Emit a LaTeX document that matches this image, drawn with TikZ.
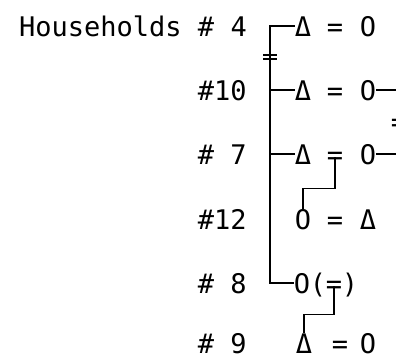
\documentclass[tikz,border=0pt]{standalone}
\usepackage{fontspec}
\setmonofont{DejaVu Sans Mono}
\newcommand{\kinfont}{\ttfamily\fontsize{27}{27}\selectfont}
\tikzset{
  lbl/.style={font=\kinfont, inner sep=0pt, anchor=base west, text height=20pt, text depth=0pt},
  sym/.style={font=\kinfont, inner sep=0pt, anchor=base, text height=20pt, text depth=0pt},
  kin/.style={draw=black, line width=1.2pt},
}
\begin{document}
\begin{tikzpicture}[x=1pt,y=-1pt]
\useasboundingbox (0,0) rectangle (396,360);
% row labels
\node[lbl] (h4)  at (19,36)  {Households \# 4};
\node[lbl] (l10) at (197.75,100) {\#10};
\node[lbl] (l7)  at (197.75,164) {\# 7};
\node[lbl] (l12) at (197.75,229) {\#12};
\node[lbl] (l8)  at (197.75,293) {\# 8};
\node[lbl] (l9)  at (197.75,353) {\# 9};
% symbols
\node[sym] (t4) at (303,36) {Δ};
\node[sym] (e4) at (335,36) {=};
\node[sym] (o4) at (368,36) {O};
\node[sym] (t10) at (303,100) {Δ};
\node[sym] (e10) at (335,100) {=};
\node[sym] (o10) at (368,100) {O};
\node[sym] (t7) at (303,164) {Δ};
\node[sym] (e7) at (335,164) {=};
\node[sym] (o7) at (368,164) {O};
\node[sym] (c12) at (303,229) {O};
\node[sym] (e12) at (335,229) {=};
\node[sym] (t12) at (368,229) {Δ};
\node[sym] (o8) at (302,293) {O};
\node[sym] (p8) at (318,293) {(};
\node[sym] (q8) at (334,293) {=};
\node[sym] (r8) at (350,293) {)};
\node[sym] (t9) at (304,353) {Δ};
\node[sym] (e9) at (340,353) {=};
\node[sym] (o9) at (368,353) {O};
% partly visible mark at the right edge
\begin{scope}
\clip (0,0) rectangle (396,360);
\node[sym] (em) at (399,131) {=};
\end{scope}
% sibling line
\coordinate (vbot) at (270,283);
\draw[kin] (t4.west) -| (vbot) -- (o8.west);
\draw[kin] (t10.west -| vbot) -- (t10.west);
\draw[kin] (t7.west -| vbot) -- (t7.west);
\draw[kin] (263,55) -- (277,55) (263,59) -- (277,59);
% spouses continuing off the picture
\coordinate (edge10) at (396,90);
\coordinate (edge7) at (396,154);
\draw[kin] (o10.east) -- (edge10);
\draw[kin] (o7.east) -- (edge7);
% descent lines
\draw[kin] ([yshift=7pt]e7.south) -- ++(0,31) -| (c12.north);
\draw[kin] ([yshift=7pt]q8.south) -- ++(0,28) -| (t9.north);
\end{tikzpicture}
\end{document}
